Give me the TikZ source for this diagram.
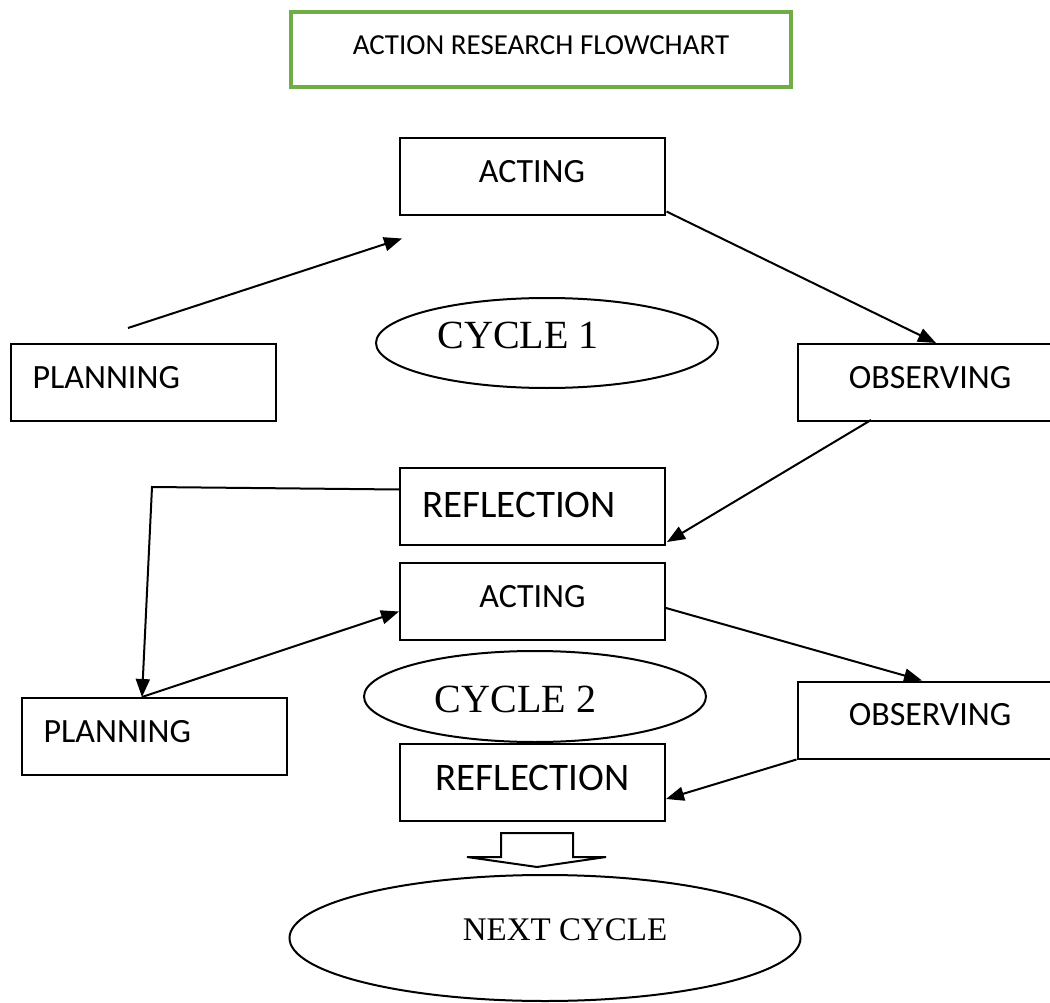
\documentclass[tikz,border=0pt]{standalone}
\usepackage{fontspec}
\setmainfont{Carlito}
\newfontfamily\cyclefont{Liberation Serif}
\usepackage{xcolor}
\usepackage{tikz}
\usetikzlibrary{shapes,arrows.meta}
\usetikzlibrary{positioning}
\definecolor{titlegreen}{HTML}{70AD47}
\tikzstyle{box} = [rectangle, draw, line width=2pt, inner sep=0pt,
    minimum width=265pt, text height=44pt, text depth=33pt,
    font=\fontsize{34}{40}\selectfont]
\tikzstyle{leftbox} = [box, inner xsep=22pt, text width=221pt, align=left]
\tikzstyle{titlebox} = [box, draw=titlegreen, line width=4pt,
    minimum width=500pt, text height=43pt, text depth=32pt,
    font=\fontsize{29}{34}\selectfont]
\tikzstyle{cycleshape} = [ellipse, draw, line width=2pt, inner sep=0pt,
    font=\cyclefont\fontsize{40}{46}\selectfont]
\tikzstyle{line} = [draw, -{Triangle[length=18pt,width=14pt]}, line width=2pt]

\begin{document}
\begin{tikzpicture}[x=1pt, y=-1pt]
    \useasboundingbox (0,0) rectangle (1050,1003);
    % Place nodes
    \node [titlebox] (title) at (541,49.5) {ACTION RESEARCH FLOWCHART};

    \node [box] (act1) at (532,177) {ACTING};
    \node [leftbox] (plan1) at (143,382.5) {PLANNING};
    \node [box] (obs1) at (930,382.5) {OBSERVING};
    \node [cycleshape, minimum width=342pt, minimum height=90pt,
        text height=30pt, text depth=20pt] (cyc1) at (547,343) {CYCLE 1\hspace*{58pt}};
    \node [leftbox, text height=49pt, text depth=28pt,
        font=\fontsize{39}{46}\selectfont] (refl1) at (532.5,506.5) {REFLECTION};

    \node [box] (act2) at (532.5,601.5) {ACTING};
    \node [leftbox] (plan2) at (154,736.5) {PLANNING};
    \node [box] (obs2) at (930,720) {OBSERVING};
    \node [cycleshape, minimum width=342pt, minimum height=91pt,
        text height=40pt, text depth=8pt] (cyc2) at (535,696.5) {CYCLE 2\hspace*{39pt}};
    \node [box, text height=46pt, text depth=31pt,
        font=\fontsize{39}{46}\selectfont] (refl2) at (532.5,782.5) {REFLECTION};

    \node [cycleshape, minimum width=511pt, minimum height=126pt,
        text height=26pt, text depth=22pt, font=\cyclefont\fontsize{33}{40}\selectfont]
        (next) at (545,938) {\hspace*{40pt}NEXT CYCLE};
    \coordinate (kink) at (152,487);

    % block arrow down to the next cycle
    \draw [line width=2pt] (501,857) -- (501,833) -- (573,833) -- (573,857)
        -- (606,857) -- (537,867) -- (467,857) -- cycle;

    \path [line] ([xshift=-15pt,yshift=15pt]plan1.north) -- ([xshift=-130pt,yshift=-22pt]act1.south);
    \path [line] ([xshift=1pt,yshift=5pt]act1.south east) -- ([xshift=6pt]obs1.north);
    \path [line] ([xshift=-59pt,yshift=2pt]obs1.south) -- ([xshift=1pt,yshift=4pt]refl1.south east);
    \path [line] ([yshift=17pt]refl1.west) -- (kink) -- ([xshift=-12pt]plan2.north);
    \path [line] ([xshift=-12pt]plan2.north) -- ([yshift=-10pt]act2.west);
    \path [line] ([yshift=-6.5pt]act2.east) -- ([xshift=-8pt]obs2.north);
    \path [line] (obs2.south west) -- ([yshift=23pt]refl2.south east);
\end{tikzpicture}
\end{document}
